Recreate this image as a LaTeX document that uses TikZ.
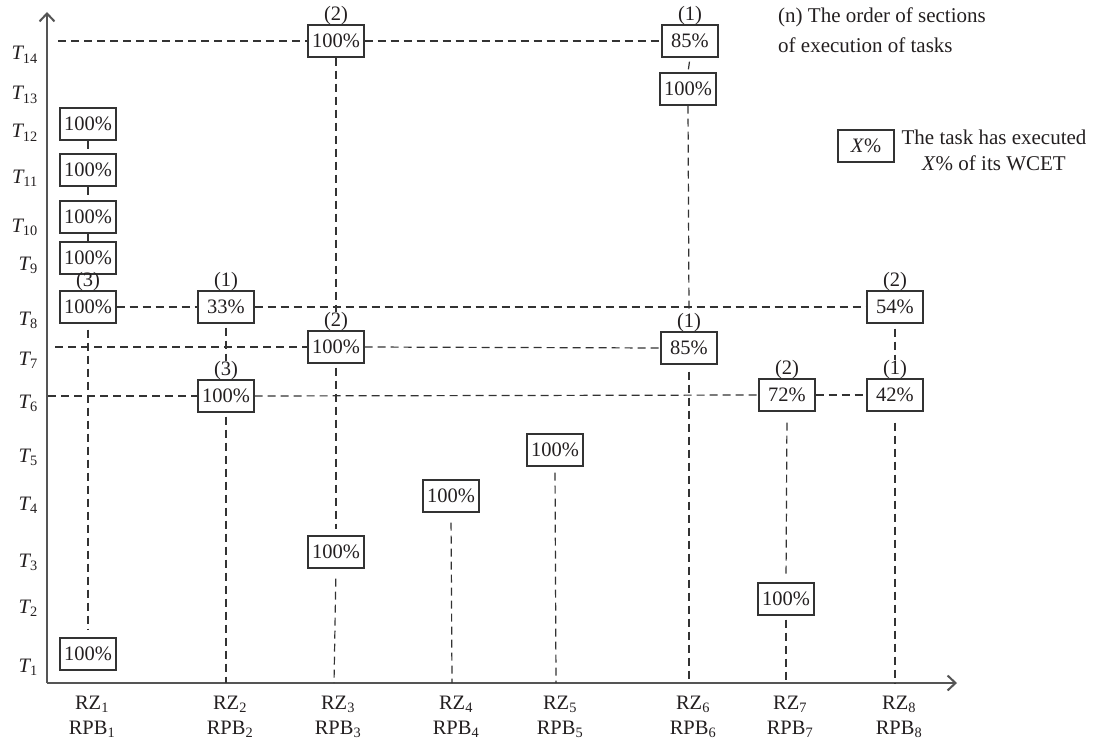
\documentclass[tikz,border=0pt]{standalone}
\usepackage{fontspec}
\setmainfont{Liberation Serif}
\usetikzlibrary{positioning,arrows.meta}
\definecolor{txt}{HTML}{231F20}
\definecolor{boxc}{HTML}{333333}
\definecolor{axc}{HTML}{555555}
\newcommand{\Tl}[1]{{\itshape T}\textsubscript{#1}}
\newcommand{\Rl}[1]{RZ\textsubscript{#1}\\RPB\textsubscript{#1}}
\begin{document}
\begin{tikzpicture}[x=1pt,y=-1pt,
  every node/.style={font=\fontsize{20.5}{24}\selectfont, text=txt},
  pbox/.style={draw=boxc, line width=1.3pt, minimum width=56pt, minimum height=32pt, inner sep=0pt},
  ord/.style={inner sep=0pt, anchor=south},
  dl/.style={draw=boxc, line width=1.2pt, dash pattern=on 8pt off 5pt},
  axisline/.style={draw=axc, line width=2pt},
  tl/.style={anchor=base east, inner sep=0pt},
  rl/.style={align=center, inner sep=0pt, anchor=north, font=\fontsize{20.5}{25}\selectfont},
]
\useasboundingbox (0,0) rectangle (1094,746);

% axes
\coordinate (O) at (47,683);
\coordinate (ytop) at (47,12);
\coordinate (xend) at (957,683);
\draw[axisline, -{Straight Barb[length=8pt,width=15pt]}] (O) -- (ytop);
\draw[axisline, -{Straight Barb[length=8pt,width=15pt]}] (O) -- (xend);

% y labels
\node[tl] (t14) at (38,60) {\Tl{14}};
\node[tl] (t13) at (38,100) {\Tl{13}};
\node[tl] (t12) at (38,138) {\Tl{12}};
\node[tl] (t11) at (38,183) {\Tl{11}};
\node[tl] (t10) at (38,232) {\Tl{10}};
\node[tl] (t9) at (38,270) {\Tl{9}};
\node[tl] (t8) at (38,325) {\Tl{8}};
\node[tl] (t7) at (38,365) {\Tl{7}};
\node[tl] (t6) at (38,408) {\Tl{6}};
\node[tl] (t5) at (38,462) {\Tl{5}};
\node[tl] (t4) at (38,510) {\Tl{4}};
\node[tl] (t3) at (38,567) {\Tl{3}};
\node[tl] (t2) at (38,613) {\Tl{2}};
\node[tl] (t1) at (38,672) {\Tl{1}};

% x labels
\node[rl] (r1) at (92,696) {\Rl{1}};
\node[rl] (r2) at (230,696) {\Rl{2}};
\node[rl] (r3) at (338,696) {\Rl{3}};
\node[rl] (r4) at (456,696) {\Rl{4}};
\node[rl] (r5) at (560,696) {\Rl{5}};
\node[rl] (r6) at (693,696) {\Rl{6}};
\node[rl] (r7) at (790,696) {\Rl{7}};
\node[rl] (r8) at (899,696) {\Rl{8}};

% RZ1
\node[pbox] (b1a) at (88,124) {100\%};
\node[pbox] (b1b) at (88,170) {100\%};
\node[pbox] (b1c) at (88,217) {100\%};
\node[pbox] (b1d) at (88,258) {100\%};
\node[pbox] (b1e) at (88,307) {100\%};
\node[ord] (o1e) at (88,291) {(3)};
\node[pbox] (b1f) at (88,654) {100\%};

% RZ2
\node[pbox] (b2a) at (226,307) {33\%};
\node[ord] (o2a) at (226,291) {(1)};
\node[pbox] (b2b) at (226,396) {100\%};
\node[ord] (o2b) at (226,380) {(3)};

% RZ3
\node[pbox] (b3a) at (336,41) {100\%};
\node[ord] (o3a) at (336,25) {(2)};
\node[pbox] (b3b) at (336,347) {100\%};
\node[ord] (o3b) at (336,331) {(2)};
\node[pbox] (b3c) at (336,552) {100\%};

% RZ4, RZ5
\node[pbox] (b4) at (451,496) {100\%};
\node[pbox] (b5) at (555,450) {100\%};

% RZ6
\node[pbox] (b6a) at (690,41) {85\%};
\node[ord] (o6a) at (690,25) {(1)};
\node[pbox] (b6b) at (688,89) {100\%};
\node[pbox] (b6c) at (689,348) {85\%};
\node[ord] (o6c) at (689,332) {(1)};

% RZ7
\node[pbox] (b7a) at (787,395) {72\%};
\node[ord] (o7a) at (787,379) {(2)};
\node[pbox] (b7b) at (786,599) {100\%};

% RZ8
\node[pbox] (b8a) at (895,307) {54\%};
\node[ord] (o8a) at (895,291) {(2)};
\node[pbox] (b8b) at (895,395) {42\%};
\node[ord] (o8b) at (895,379) {(1)};

% axis foot points
\coordinate (a1) at (88,683);
\coordinate (a2) at (226,683);
\coordinate (a3) at (334,683);
\coordinate (a4) at (452,683);
\coordinate (a5) at (556,683);
\coordinate (a6) at (689,683);
\coordinate (a7) at (786,683);
\coordinate (a8) at (895,683);

% horizontal dashed lines
\coordinate (s14) at (58,41);
\coordinate (s7) at (55,347);
\coordinate (s6) at (48,396);
\draw[dl] (s14) -- (b3a.west);
\draw[dl] (b3a.east) -- (b6a.west);
\draw[dl] (b1e.east) -- (b2a.west);
\draw[dl] (b2a.east) -- (b8a.west);
\draw[dl] (s7) -- (b3b.west);
\draw[dl] (b3b.east) -- (b6c.west);
\draw[dl] (s6) -- (b2b.west);
\draw[dl] (b2b.east) -- (b7a.west);
\draw[dl] (b7a.east) -- (b8b.west);

% vertical dashed lines
\draw[dl] (b1a.south) -- (b1b.north);
\draw[dl] (b1b.south) -- (b1c.north);
\draw[dl] (b1c.south) -- (b1d.north);
\draw[dl, shorten <=6pt, shorten >=8pt] (b1e.south) -- (b1f.north);
\draw[dl, shorten <=4pt] (b2a.south) -- (o2b.north);
\draw[dl, shorten <=4pt] (b2b.south) -- (a2);
\draw[dl] (b3a.south) -- (o3b.north);
\draw[dl, shorten <=4pt, shorten >=6pt] (b3b.south) -- (b3c.north);
\draw[dl, shorten <=10pt] (b3c.south) -- (a3);
\draw[dl, shorten <=10pt] (b4.south) -- (a4);
\draw[dl, shorten <=6pt] (b5.south) -- (a5);
\draw[dl, shorten <=4pt, shorten >=3pt] (b6a.south) -- (b6b.north);
\draw[dl] (b6b.south) -- (o6c.north);
\draw[dl, shorten <=7pt] (b6c.south) -- (a6);
\draw[dl, shorten <=11pt, shorten >=8pt] (b7a.south) -- (b7b.north);
\draw[dl, shorten <=4pt] (b7b.south) -- (a7);
\draw[dl, shorten <=5pt] (b8a.south) -- (o8b.north);
\draw[dl, shorten <=11pt] (b8b.south) -- (a8);

% legend
\node[anchor=north west, align=left, inner sep=0pt, font=\fontsize{21}{30}\selectfont] (leg1) at (778,8) {(n) The order of sections\\of execution of tasks};
\node[pbox] (legbox) at (866,146) {\textit{X}\%};
\node[align=center, inner sep=0pt, font=\fontsize{21}{26}\selectfont] (leg2) at (994,150) {The task has executed\\\textit{X}\% of its WCET};
\end{tikzpicture}
\end{document}
